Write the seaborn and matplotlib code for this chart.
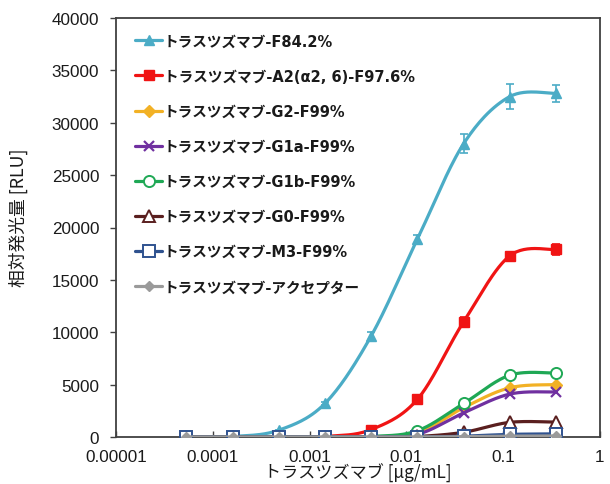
import numpy as np
import pandas as pd
import matplotlib
matplotlib.use("Agg")
import matplotlib.pyplot as plt
from matplotlib.lines import Line2D
import seaborn as sns

# ---------------- data ----------------
conc = [0.000053, 0.00016, 0.00048, 0.00144, 0.0043, 0.013, 0.039, 0.117, 0.35]

series_names = [
    "トラスツズマブ-F84.2%",
    "トラスツズマブ-A2(α2, 6)-F97.6%",
    "トラスツズマブ-G2-F99%",
    "トラスツズマブ-G1a-F99%",
    "トラスツズマブ-G1b-F99%",
    "トラスツズマブ-G0-F99%",
    "トラスツズマブ-M3-F99%",
    "トラスツズマブ-アクセプター",
]

f842 = [0, 50, 650, 3200, 9600, 18900, 28000, 32500, 32800]
a2 = [0, 0, 0, 50, 700, 3600, 11000, 17300, 17900]
g2 = [0, 0, 0, 0, 30, 350, 2800, 4700, 5000]
g1a = [0, 0, 0, 0, 30, 250, 2300, 4100, 4300]
g1b = [0, 0, 0, 0, 50, 600, 3200, 5900, 6100]
g0 = [0, 0, 0, 0, 0, 50, 450, 1400, 1420]
m3 = [0, 0, 0, 0, 0, 0, 80, 250, 300]
acceptor = [0, 0, 0, 0, 0, 0, 30, 80, 100]

f842_err = [0, 0, 50, 150, 400, 400, 900, 1200, 800]
a2_err = [0, 0, 0, 0, 100, 200, 500, 300, 500]

yticks = [0, 5000, 10000, 15000, 20000, 25000, 30000, 35000, 40000]
xticks = [0.00001, 0.0001, 0.001, 0.01, 0.1, 1]
xticklabels = ["0.00001", "0.0001", "0.001", "0.01", "0.1", "1"]

xlabel = "トラスツズマブ [μg/mL]"
ylabel = "相対発光量 [RLU]"

# ---------------- styles ----------------
colors = ["#4BACC6", "#F01414", "#F2B125", "#7030A0", "#1FA855", "#5A1F1F", "#2F528F", "#9A9A9A"]
markers = ["^", "s", "D", "x", "o", "^", "s", "D"]
filled = [True, True, True, None, False, False, False, True]
msizes = [7, 7, 6, 7, 8, 8, 8, 5]

values = [f842, a2, g2, g1a, g1b, g0, m3, acceptor]
errors = [f842_err, a2_err, None, None, None, None, None, None]

sns.set_theme(style="white")
plt.rcParams["font.family"] = ["Liberation Sans", "Noto Sans CJK JP", "DejaVu Sans"]
JP = ["Noto Sans CJK JP", "DejaVu Sans"]
LEG = ["DejaVu Sans", "Noto Sans CJK JP"]

fig = plt.figure(figsize=(6.1, 4.85), dpi=100)
ax = fig.add_axes([116 / 610, 47 / 485, 484 / 610, 419 / 485])


def smooth(xs, ys, n=30):
    """Excel-like smoothed line (Catmull-Rom Bezier) in log-x space."""
    lx = np.log10(np.asarray(xs, float))
    y = np.asarray(ys, float)
    P = np.column_stack([lx, y])
    out = []
    m = len(P)
    for i in range(m - 1):
        p0 = P[i - 1] if i > 0 else P[i]
        p1 = P[i]
        p2 = P[i + 1]
        p3 = P[i + 2] if i + 2 < m else P[i + 1]
        c1 = p1 + (p2 - p0) / 6.0
        c2 = p2 - (p3 - p1) / 6.0
        t = np.linspace(0, 1, n)[:, None]
        seg = ((1 - t) ** 3) * p1 + 3 * ((1 - t) ** 2) * t * c1 + 3 * (1 - t) * t ** 2 * c2 + t ** 3 * p2
        out.append(seg if i == 0 else seg[1:])
    out = np.vstack(out)
    return 10 ** out[:, 0], out[:, 1]


handles = []
for k, (name, vals) in enumerate(zip(series_names, values)):
    c = colors[k]
    sx, sy = smooth(conc, vals)
    df = pd.DataFrame({"x": sx, "y": sy})
    sns.lineplot(data=df, x="x", y="y", ax=ax, color=c, lw=2.3, sort=False,
                 estimator=None, zorder=2 + k * 0.1)
    if errors[k] is not None:
        ax.errorbar(conc, vals, yerr=errors[k], fmt="none", ecolor=c, elinewidth=1.2,
                    capsize=3, capthick=1.2, zorder=2 + k * 0.1)
    if filled[k] is None:
        mk = dict(marker=markers[k], markersize=msizes[k], markeredgewidth=1.6,
                  markeredgecolor=c)
    elif filled[k]:
        mk = dict(marker=markers[k], markersize=msizes[k], markerfacecolor=c,
                  markeredgecolor=c)
    else:
        mk = dict(marker=markers[k], markersize=msizes[k], markerfacecolor="white",
                  markeredgecolor=c, markeredgewidth=1.4)
    ax.plot(conc, vals, linestyle="none", color=c, zorder=2.05 + k * 0.1, **mk)
    handles.append(Line2D([0], [0], color=c, lw=2.3, **mk))

ax.set_xscale("log")
ax.set_xlim(1e-5, 1)
ax.set_ylim(0, 40000)
ax.set_xticks(xticks)
ax.set_xticklabels(xticklabels)
ax.xaxis.set_minor_locator(matplotlib.ticker.NullLocator())
ax.set_yticks(yticks)
ax.set_yticklabels([str(v) for v in yticks])

for s in ax.spines.values():
    s.set_color("#404040")
    s.set_linewidth(1.3)

ax.tick_params(axis="y", direction="out", length=4, width=1, color="#404040",
               labelsize=12.3, labelcolor="#1a1a1a", pad=8, left=True)
ax.tick_params(axis="x", direction="in", length=4, width=1, color="#404040",
               labelsize=12.3, labelcolor="#1a1a1a", pad=8.5, bottom=True)

ax.set_xlabel(xlabel, family=JP, fontsize=12.3, color="#1a1a1a", labelpad=-0.5)
ax.set_ylabel(ylabel, family=JP, fontsize=12.8, color="#1a1a1a")
ax.yaxis.set_label_coords(-0.182, 0.525)

leg = ax.legend(handles, series_names, loc="upper left", bbox_to_anchor=(0.028, 0.977),
                frameon=False, handlelength=1.8, handletextpad=0.15, labelspacing=1.38,
                borderaxespad=0.0, prop={"family": LEG, "size": 10.5, "weight": "bold"})
for t in leg.get_texts():
    t.set_color("#1a1a1a")

fig.savefig("out.png", dpi=100)
